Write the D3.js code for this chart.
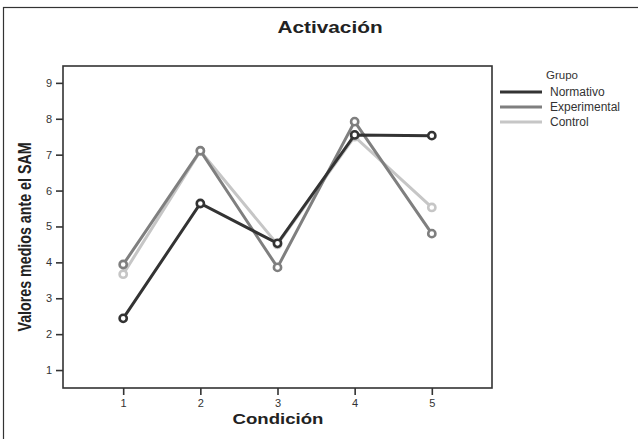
<!DOCTYPE html>
<html><head><meta charset="utf-8">
<script src="https://cdn.jsdelivr.net/npm/d3@7"></script>
<style>body{margin:0;background:#fff}svg{display:block}</style>
</head><body><svg id="c" width="638" height="439"></svg>
<script>
const conditions = [1, 2, 3, 4, 5];
const normativo = [2.44, 5.64, 4.53, 7.55, 7.53];
const experimental = [3.94, 7.11, 3.86, 7.92, 4.80];
const control = [3.67, 7.10, 4.50, 7.50, 5.53];
const yTicks = [1, 2, 3, 4, 5, 6, 7, 8, 9];
const groups = ["Normativo", "Experimental", "Control"];
const colors = ["#333333", "#7f7f7f", "#c6c6c6"];
const seriesVals = [normativo, experimental, control];

const svg = d3.select("#c");
const font = "Liberation Sans, Arial, sans-serif";
const m = {l: 63, t: 66, r: 492, b: 388};
const x = d3.scaleLinear().domain([0.22, 5.78]).range([m.l, m.r]);
const y = d3.scaleLinear().domain([0.5, 9.47]).range([m.b, m.t]);

svg.append("rect").attr("x", 3.5).attr("y", 7.5).attr("width", 700).attr("height", 500)
  .attr("fill", "none").attr("stroke", "#333").attr("stroke-width", 1.2);

svg.append("text").attr("transform", "translate(330,33) scale(1.3,1)").attr("text-anchor", "middle")
  .attr("font-family", font).attr("font-weight", "bold").attr("font-size", 16).attr("fill", "#222").text("Activación");

svg.append("rect").attr("x", m.l).attr("y", m.t).attr("width", m.r - m.l).attr("height", m.b - m.t)
  .attr("fill", "none").attr("stroke", "#333").attr("stroke-width", 1.6);

const yAxis = svg.append("g").attr("transform", `translate(${m.l},0)`)
  .call(d3.axisLeft(y).tickValues(yTicks).tickSize(7).tickPadding(4).tickFormat(d3.format("d")));
const xAxis = svg.append("g").attr("transform", `translate(0,${m.b})`)
  .call(d3.axisBottom(x).tickValues(conditions).tickSize(7).tickPadding(4).tickFormat(d3.format("d")));
[yAxis, xAxis].forEach(a => {
  a.select(".domain").remove();
  a.selectAll("line").attr("stroke", "#333").attr("stroke-width", 1.6);
  a.selectAll("text").attr("font-family", font).attr("font-size", 11).attr("fill", "#333");
});

svg.append("text").attr("transform", "translate(278,424) scale(1.2,1)").attr("text-anchor", "middle")
  .attr("font-family", font).attr("font-weight", "bold").attr("font-size", 15.5).attr("fill", "#222").text("Condición");
svg.append("text").attr("transform", "translate(31,237) rotate(-90) scale(0.75,1)").attr("text-anchor", "middle")
  .attr("font-family", font)
  .attr("font-weight", "bold").attr("font-size", 19).attr("fill", "#222").text("Valores medios ante el SAM");

const line = d3.line().x((d, i) => x(conditions[i])).y(d => y(d));
[2, 1, 0].forEach(k => {
  const g = svg.append("g");
  g.append("path").datum(seriesVals[k]).attr("d", line).attr("fill", "none")
    .attr("stroke", colors[k]).attr("stroke-width", 3).attr("stroke-linejoin", "miter");
  g.selectAll("circle").data(seriesVals[k]).join("circle")
    .attr("cx", (d, i) => x(conditions[i])).attr("cy", d => y(d)).attr("r", 3.6)
    .attr("fill", "#fff").attr("stroke", colors[k]).attr("stroke-width", 2.6);
});

svg.append("text").attr("x", 546).attr("y", 79).attr("font-family", font).attr("font-size", 11.5).attr("fill", "#333").text("Grupo");
groups.forEach((gname, i) => {
  const yy = 92 + i * 15;
  svg.append("line").attr("x1", 500).attr("x2", 542).attr("y1", yy).attr("y2", yy)
    .attr("stroke", colors[i]).attr("stroke-width", 3);
  svg.append("text").attr("x", 550).attr("y", yy + 4).attr("font-family", font).attr("font-size", 12)
    .attr("fill", "#333").text(gname);
});
</script></body></html>
